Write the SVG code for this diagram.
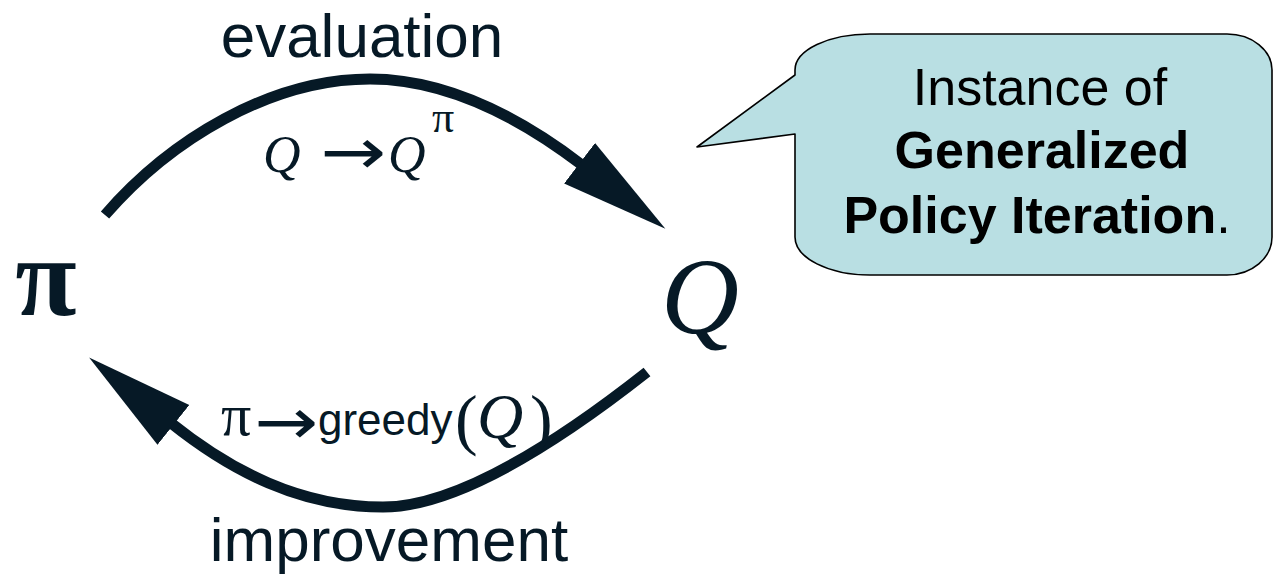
<svg xmlns="http://www.w3.org/2000/svg" width="1275" height="574" viewBox="0 0 1275 574">
  <style>
    .ink { fill: #061926; }
    .sans { font-family: "Liberation Sans", Arial, sans-serif; }
    .serif { font-family: "Liberation Serif", "Times New Roman", serif; }
    .it { font-style: italic; }
    .maps { font-family: "DejaVu Sans", sans-serif; }
    .arc { fill: none; stroke: #061926; stroke-width: 11; stroke-linecap: butt; }
    .bubble { fill: #b9dfe3; stroke: #000; stroke-width: 1.6; stroke-linejoin: round; }
    .bubble-text { fill: #000; font-family: "Liberation Sans", Arial, sans-serif; font-size: 52px; text-anchor: middle; }
  </style>
  <defs>
    <marker id="head" markerUnits="userSpaceOnUse" markerWidth="110" markerHeight="56" viewBox="-3 -27 108 54" refX="0" refY="0" orient="auto">
      <path d="M-3,-25 L103,0 L-3,25 Z" fill="#061926"/>
    </marker>
  </defs>

  <rect width="1275" height="574" fill="#fff"/>

  <!-- policy node -->
  <g id="node-pi">
    <text class="ink serif" x="46" y="315" font-size="112" font-weight="bold" text-anchor="middle">π</text>
  </g>

  <!-- action-value node -->
  <g id="node-q">
    <text class="ink serif it" x="700" y="333" font-size="108" text-anchor="middle">Q</text>
  </g>

  <!-- evaluation / improvement loop -->
  <g id="connectors">
    <path id="edge-eval" class="arc" d="M105,215 C170,140 270,79 370,79 C440,79 510,110 582,165" marker-end="url(#head)"/>
    <path id="edge-improve" class="arc" d="M647,372 C567,435 460,507 383,507 C300,507 231,471 171,423" marker-end="url(#head)"/>

    <g id="label-eval">
      <text class="ink sans" x="362" y="57" font-size="62" text-anchor="middle">evaluation</text>
      <text class="ink serif it" x="263" y="172" font-size="52">Q</text>
      <text class="ink maps" x="320" y="174" font-size="64" textLength="66" lengthAdjust="spacingAndGlyphs">→</text>
      <text class="ink serif it" x="388" y="172" font-size="52">Q</text>
      <text class="ink serif" x="432" y="132" font-size="44">π</text>
    </g>

    <g id="label-improve">
      <text class="ink sans" x="389" y="561" font-size="62" text-anchor="middle">improvement</text>
      <text class="ink serif" x="221" y="435" font-size="60">π</text>
      <text class="ink maps" x="254" y="444" font-size="64" textLength="64" lengthAdjust="spacingAndGlyphs">→</text>
      <text class="ink sans" x="318" y="435" font-size="44">greedy</text>
      <text class="ink serif" x="455" y="442" font-size="68">(</text>
      <text class="ink serif it" x="477" y="438" font-size="64">Q</text>
      <text class="ink serif" x="530" y="442" font-size="68">)</text>
    </g>
  </g>

  <!-- speech bubble -->
  <g id="callout">
    <path class="bubble" d="M870,34 H1227 A45,36 0 0 1 1272,70 V237 A45,38 0 0 1 1227,275 H870 A75,38 0 0 1 795,237 V134 L697,147 L795,75 V70 A75,36 0 0 1 870,34 Z"/>
    <text class="bubble-text" x="1040" y="105">Instance of</text>
    <text class="bubble-text" x="1042" y="168" font-weight="bold">Generalized</text>
    <text class="bubble-text" x="1037" y="233"><tspan font-weight="bold">Policy Iteration</tspan>.</text>
  </g>
</svg>
